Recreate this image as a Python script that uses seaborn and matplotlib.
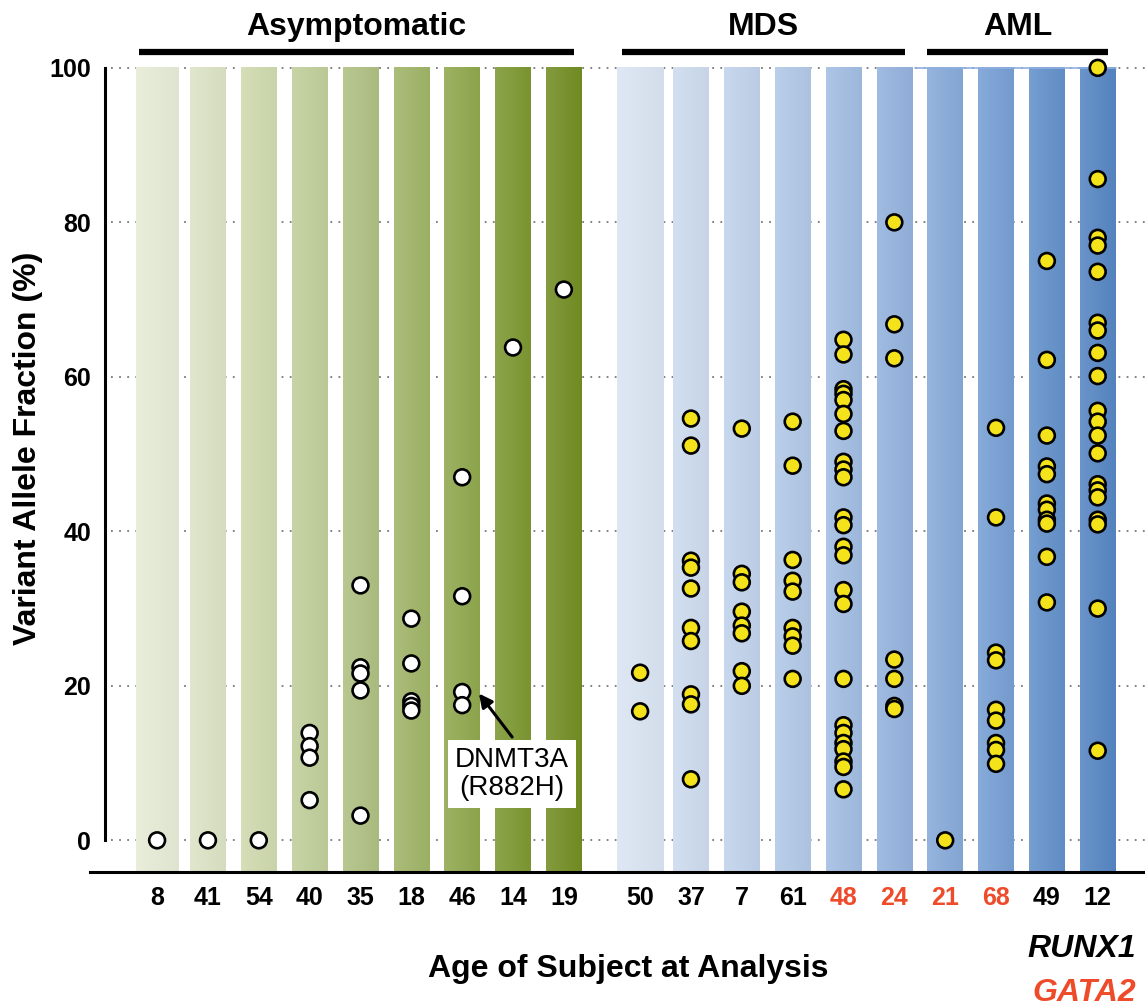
import numpy as np
import pandas as pd
import matplotlib
matplotlib.use('Agg')
import matplotlib.pyplot as plt
import seaborn as sns
from matplotlib.colors import to_rgb

sns.set_style('white')
plt.rcParams['font.family'] = ['Liberation Sans', 'DejaVu Sans']
plt.rcParams['text.color'] = 'black'
plt.rcParams['axes.labelcolor'] = 'black'
plt.rcParams['xtick.color'] = 'black'
plt.rcParams['ytick.color'] = 'black'

# subject ages (x tick labels), per group
asym_ages = ['8', '41', '54', '40', '35', '18', '46', '14', '19']
mds_ages = ['50', '37', '7', '61', '48', '24']
aml_ages = ['21', '68', '49', '12']
gata2_ages = ['48', '24', '21', '68']

# variant allele fractions (%) per subject
asym_vaf = [
    [0], [0], [0],
    [13.9, 12.2, 10.7, 5.2],
    [33.0, 22.4, 21.6, 19.4, 3.2],
    [28.7, 22.9, 18.0, 17.4, 16.8],
    [47.0, 31.6, 19.2, 17.5],
    [63.8],
    [71.3],
]
mds_vaf = [
    [21.7, 16.7],
    [54.6, 51.1, 36.2, 35.3, 32.6, 27.5, 25.8, 18.9, 17.6, 7.9],
    [53.3, 34.5, 33.4, 29.6, 27.8, 26.8, 21.9, 20.0],
    [54.2, 48.5, 36.3, 33.6, 32.2, 27.5, 26.4, 25.2, 20.9],
    [64.8, 62.9, 58.4, 57.8, 57.0, 55.2, 53.0, 49.0, 48.0, 47.0, 41.8, 40.8,
     38.0, 36.9, 32.4, 30.6, 20.9, 14.9, 13.9, 12.6, 11.8, 10.2, 9.5, 6.6],
    [80.0, 66.8, 62.4, 23.4, 20.9, 17.4, 17.0],
]
aml_vaf = [
    [0],
    [53.4, 41.8, 24.3, 23.3, 16.9, 15.5, 12.6, 11.7, 9.9],
    [75.0, 62.2, 52.4, 48.4, 47.4, 43.6, 42.8, 41.5, 41.0, 36.7, 30.8],
    [100, 85.6, 78.0, 77.0, 73.6, 67.0, 66.0, 63.1, 60.1, 55.6, 54.2, 52.4,
     50.1, 46.1, 45.3, 44.4, 41.5, 40.9, 30.0, 11.6],
]

green_cols = ['#e6ebd6', '#dbe3c5', '#cfdaae', '#c0ce9a', '#afc082',
              '#a0b468', '#90a84e', '#7d9832', '#738e24']
blue_cols = ['#dae4f2', '#cddbee', '#c0d2eb', '#b1c8e6', '#a2bde2',
             '#94b2dd', '#87aad9', '#779fd4', '#6391cb', '#5686c3']

# x positions: gap of 1.5 slots between asymptomatic and patients
asym_pos = list(np.arange(len(asym_ages)))
pat_ages = mds_ages + aml_ages
pat_pos = list(9.5 + np.arange(len(pat_ages)))
all_ages = asym_ages + pat_ages
all_pos = asym_pos + pat_pos

rows = []
for p, vals in zip(asym_pos, asym_vaf):
    for v in vals:
        rows.append((p, v, 'Asymptomatic'))
for p, vals in zip(pat_pos, mds_vaf + aml_vaf):
    for v in vals:
        rows.append((p, v, 'Patient'))
df = pd.DataFrame(rows, columns=['pos', 'vaf', 'group'])

fig = plt.figure(figsize=(11.45, 10.06), dpi=100)
ax = fig.add_axes([90 / 1145, 134 / 1006, 1 - 90 / 1145, (872 - 64) / 1006])

ymin, ymax = -4.1, 100.5
xmin, xmax = -1.32, 19.43

# dotted grid behind bars
for yt in [0, 20, 40, 60, 80, 100]:
    ax.plot([-0.9, xmax], [yt, yt], ls=(0, (1, 3.5)), color='#777777', lw=1.3, zorder=0)


def grad_bar(x, w, col):
    c = np.array(to_rgb(col))
    left = c + (1 - c) * 0.12
    right = c * 0.97
    t = np.linspace(0, 1, 64)[:, None]
    img = (left * (1 - t) + right * t)[None, :, :]
    ax.imshow(img, extent=(x - w / 2, x + w / 2, ymin, 100), aspect='auto',
              interpolation='bilinear', zorder=1)


widths = [0.83] + [0.70] * 8 + [0.92] + [0.70] * 9
for x, w, col in zip(all_pos, widths, green_cols + blue_cols):
    grad_bar(x, w, col)

# thin line on top of the AML bars
ax.plot([pat_pos[6] - 0.6, pat_pos[9] + 0.35], [100, 100], color='#8fb0e0', lw=1.2, zorder=2)

sns.scatterplot(data=df, x='pos', y='vaf', hue='group',
                palette={'Asymptomatic': 'white', 'Patient': '#f4e31a'},
                s=130, edgecolor='black', linewidth=1.9, legend=False,
                zorder=5, clip_on=False, ax=ax)

ax.set_xlim(xmin, xmax)
ax.set_ylim(ymin, ymax)

ax.spines['top'].set_visible(False)
ax.spines['right'].set_visible(False)
ax.spines['left'].set_position(('data', -1.02))
ax.spines['left'].set_bounds(0, 100)
for s in ['left', 'bottom']:
    ax.spines[s].set_linewidth(2.2)
    ax.spines[s].set_color('black')

ax.set_xticks(all_pos)
ax.set_xticklabels(all_ages, fontsize=18, fontweight='bold')
for lab in ax.get_xticklabels():
    if lab.get_text() in gata2_ages:
        lab.set_color('#ee4b2b')
ax.set_yticks([0, 20, 40, 60, 80, 100])
ax.set_yticklabels(['0', '20', '40', '60', '80', '100'], fontsize=18, fontweight='bold')
ax.tick_params(axis='both', direction='out', length=7, width=2, pad=3)

ax.set_xlabel('')
ax.set_ylabel('')
fig.text(28 / 1145, 1 - 448 / 1006, 'Variant Allele Fraction (%)', fontsize=23,
         fontweight='bold', rotation=90, ha='center', va='center')
fig.text(628 / 1145, 1 - 977 / 1006, 'Age of Subject at Analysis', fontsize=23,
         fontweight='bold', ha='center', va='baseline')
fig.text(1136 / 1145, 1 - 957 / 1006, 'RUNX1', fontsize=23, fontweight='bold',
         style='italic', ha='right', va='baseline')
fig.text(1136 / 1145, 1 - 1001 / 1006, 'GATA2', fontsize=23, fontweight='bold',
         style='italic', ha='right', va='baseline', color='#ee4b2b')

# group headers with bars
groups = [('Asymptomatic', asym_pos[0], asym_pos[-1]),
          ('MDS', pat_pos[0], pat_pos[5]),
          ('AML', pat_pos[6], pat_pos[9])]
for name, a, b in groups:
    x0, x1 = a - 0.36, b + 0.2
    ax.plot([x0, x1], [102.1, 102.1], color='black', lw=4.5, solid_capstyle='butt', clip_on=False)
    ax.text((x0 + x1) / 2, 104.3, name, fontsize=23, fontweight='bold',
            ha='center', va='baseline')

ax.annotate('DNMT3A\n(R882H)', xy=(6.33, 19.0), xytext=(6.98, 8.55),
            fontsize=20, ha='center', va='center', zorder=6, linespacing=1.1,
            bbox=dict(boxstyle='square,pad=0.25', fc='white', ec='none'),
            arrowprops=dict(arrowstyle='-|>', color='black', lw=2.2,
                            mutation_scale=20, shrinkA=3, shrinkB=0,
                            relpos=(0.57, 1.0)))

fig.savefig('out.png', dpi=100)
